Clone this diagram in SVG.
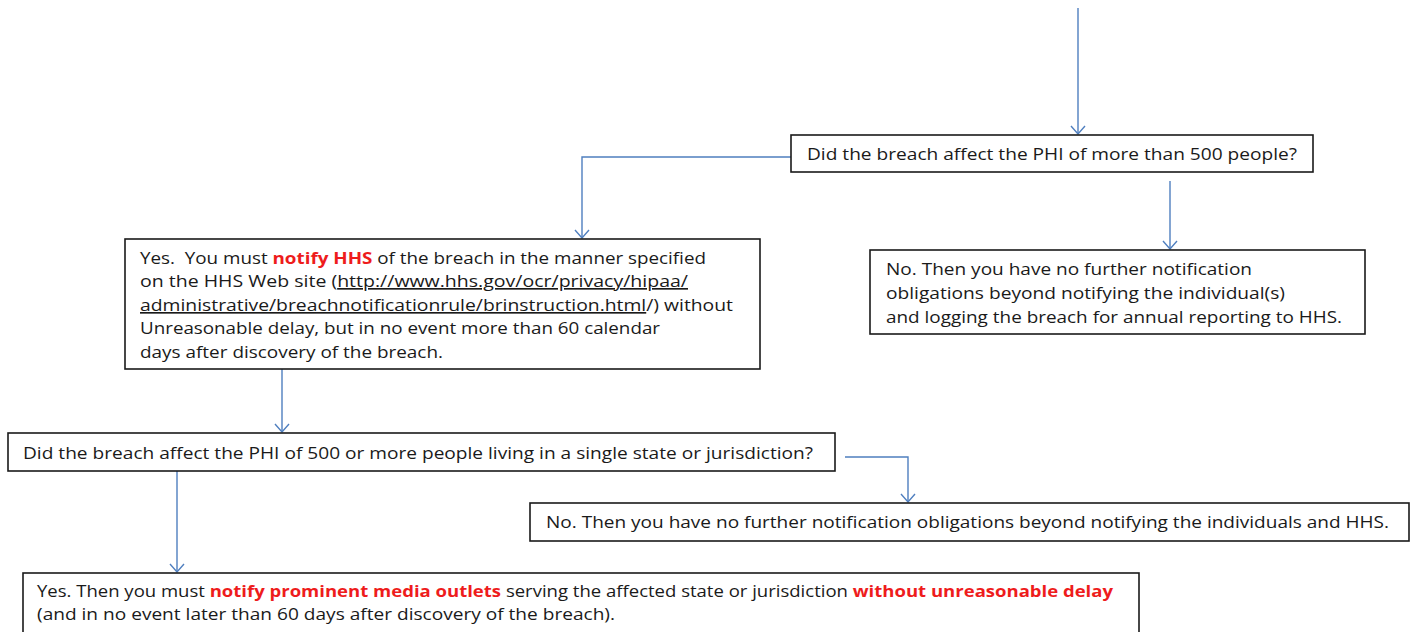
<svg xmlns="http://www.w3.org/2000/svg" width="1417" height="632" viewBox="0 0 1417 632">
<style>
.box{fill:#fff;stroke:#1a1a1a;stroke-width:1.6}
.t{font-family:"Open Sans","Noto Sans","Liberation Sans",sans-serif;font-size:16.5px;fill:#1a1a1a}
.r{fill:#ee1c1c;font-weight:bold}
.u{text-decoration:underline}
.c{fill:none;stroke:#4f7fbf;stroke-width:1.4}
</style>
<defs>
<marker id="ah" markerUnits="userSpaceOnUse" markerWidth="20" markerHeight="20" refX="10" refY="10" orient="auto" viewBox="0 0 20 20">
<path d="M2,3 L10,10 L2,17" fill="none" stroke="#4f7fbf" stroke-width="1.4"/>
</marker>
</defs>
<rect width="1417" height="632" fill="#fff"/>
<g id="connectors">
<path class="c" d="M1078,8 V134" marker-end="url(#ah)"/>
<path class="c" d="M791,157 H582 V238" marker-end="url(#ah)"/>
<path class="c" d="M1170,181 V249" marker-end="url(#ah)"/>
<path class="c" d="M282,366 V432" marker-end="url(#ah)"/>
<path class="c" d="M845,457 H908 V502" marker-end="url(#ah)"/>
<path class="c" d="M177,471 V572" marker-end="url(#ah)"/>
</g>
<g id="q1">
<rect class="box" x="791" y="135" width="522" height="37"/>
<text class="t" x="807" y="160" textLength="490" lengthAdjust="spacingAndGlyphs">Did the breach affect the PHI of more than 500 people?</text>
</g>
<g id="yes1">
<rect class="box" x="125" y="239" width="635" height="130"/>
<text class="t" x="140" y="264" textLength="566" lengthAdjust="spacingAndGlyphs" xml:space="preserve">Yes.  You must <tspan class="r">notify HHS</tspan> of the breach in the manner specified</text>
<text class="t" x="140" y="287" textLength="548" lengthAdjust="spacingAndGlyphs">on the HHS Web site (<tspan class="u">http://www.hhs.gov/ocr/privacy/hipaa/</tspan></text>
<text class="t" x="140" y="311" textLength="593" lengthAdjust="spacingAndGlyphs"><tspan class="u">administrative/breachnotificationrule/brinstruction.html</tspan>/) without</text>
<text class="t" x="140" y="334" textLength="520" lengthAdjust="spacingAndGlyphs">Unreasonable delay, but in no event more than 60 calendar</text>
<text class="t" x="140" y="358" textLength="303" lengthAdjust="spacingAndGlyphs">days after discovery of the breach.</text>
</g>
<g id="no1">
<rect class="box" x="870" y="250" width="495" height="84"/>
<text class="t" x="886" y="275" textLength="366" lengthAdjust="spacingAndGlyphs">No. Then you have no further notification</text>
<text class="t" x="886" y="299" textLength="399" lengthAdjust="spacingAndGlyphs">obligations beyond notifying the individual(s)</text>
<text class="t" x="886" y="323" textLength="456" lengthAdjust="spacingAndGlyphs">and logging the breach for annual reporting to HHS.</text>
</g>
<g id="q2">
<rect class="box" x="8" y="433" width="827" height="38"/>
<text class="t" x="23" y="459" textLength="790" lengthAdjust="spacingAndGlyphs">Did the breach affect the PHI of 500 or more people living in a single state or jurisdiction?</text>
</g>
<g id="no2">
<rect class="box" x="530" y="503" width="879" height="38"/>
<text class="t" x="546" y="528" textLength="843" lengthAdjust="spacingAndGlyphs">No. Then you have no further notification obligations beyond notifying the individuals and HHS.</text>
</g>
<g id="yes2">
<rect class="box" x="23" y="573" width="1116" height="70"/>
<text class="t" x="37" y="597" textLength="1076" lengthAdjust="spacingAndGlyphs">Yes. Then you must <tspan class="r">notify prominent media outlets</tspan> serving the affected state or jurisdiction <tspan class="r">without unreasonable delay</tspan></text>
<text class="t" x="37" y="620" textLength="578" lengthAdjust="spacingAndGlyphs">(and in no event later than 60 days after discovery of the breach).</text>
</g>
</svg>
